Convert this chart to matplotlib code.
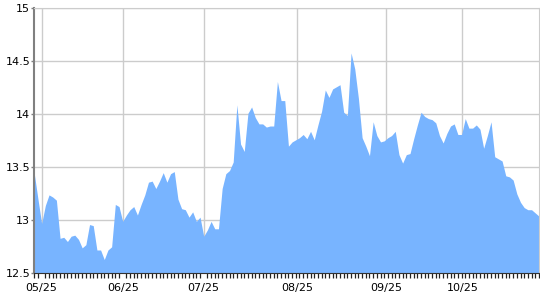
import matplotlib
matplotlib.use('Agg')
from matplotlib import pyplot as plt

# one value per trading day (category axis)
values = [
    13.44, 13.20, 12.97, 13.14, 13.24, 13.22, 13.19, 12.83, 12.84, 12.80,
    12.85, 12.86, 12.82, 12.74, 12.77, 12.96, 12.95, 12.72, 12.72, 12.63,
    12.72, 12.75, 13.15, 13.13, 12.99, 13.05, 13.10, 13.13, 13.05, 13.15,
    13.24, 13.36, 13.37, 13.30, 13.37, 13.45, 13.36, 13.44, 13.46, 13.20,
    13.11, 13.10, 13.03, 13.08, 12.99, 13.03, 12.85, 12.91, 12.99, 12.92,
    12.92, 13.30, 13.44, 13.47, 13.55, 14.09, 13.72, 13.65, 14.01, 14.07,
    13.97, 13.91, 13.91, 13.88, 13.89, 13.89, 14.31, 14.13, 14.13, 13.70,
    13.74, 13.76, 13.78, 13.81, 13.77, 13.84, 13.76, 13.90, 14.03, 14.23,
    14.16, 14.24, 14.26, 14.28, 14.02, 13.99, 14.58, 14.43, 14.15, 13.78,
    13.70, 13.61, 13.93, 13.80, 13.74, 13.75, 13.78, 13.80, 13.84, 13.62,
    13.54, 13.62, 13.63, 13.77, 13.90, 14.02, 13.98, 13.96, 13.95, 13.92,
    13.80, 13.73, 13.82, 13.89, 13.91, 13.81, 13.81, 13.96, 13.87, 13.87,
    13.90, 13.86, 13.68, 13.80, 13.93, 13.60, 13.58, 13.56, 13.42, 13.41,
    13.38, 13.25, 13.17, 13.12, 13.10, 13.10, 13.07, 13.04,
]
x_labels = ['05/25', '06/25', '07/25', '08/25', '09/25', '10/25']
x_label_pos = [2, 24, 46, 71.4, 95.5, 116.2]
y_ticks = [12.5, 13, 13.5, 14, 14.5, 15]
y_labels = ['12.5', '13', '13.5', '14', '14.5', '15']

fig = plt.figure(figsize=(5.4, 3.0), dpi=100)
ax = fig.add_axes([0.0635, 0.089, 0.9345, 0.883])

x = list(range(len(values)))
ax.fill_between(x, 12.5, values, color='#78b4ff', linewidth=0, zorder=2)

ax.set_xlim(0, len(values) - 1)
ax.set_ylim(12.5, 15)

ax.set_yticks(y_ticks)
ax.set_yticklabels(y_labels)
ax.set_xticks(x_label_pos)
ax.set_xticklabels(x_labels)
ax.set_xticks(x, minor=True)

ax.grid(True, which='major', color='#cccccc', linewidth=1.0, zorder=0)
ax.set_axisbelow(True)

for s in ['top', 'right']:
    ax.spines[s].set_color('#cccccc')
ax.spines['left'].set_color('#808080')
ax.spines['left'].set_linewidth(1.5)
ax.spines['bottom'].set_color('#333333')

ax.tick_params(axis='y', length=2, width=1, color='#808080', labelsize=8, pad=1)
ax.tick_params(axis='x', which='major', length=0, labelsize=8, pad=7)
ax.tick_params(axis='x', which='minor', length=3.5, width=0.9, color='#222222')

fig.savefig('out.png', dpi=100)
